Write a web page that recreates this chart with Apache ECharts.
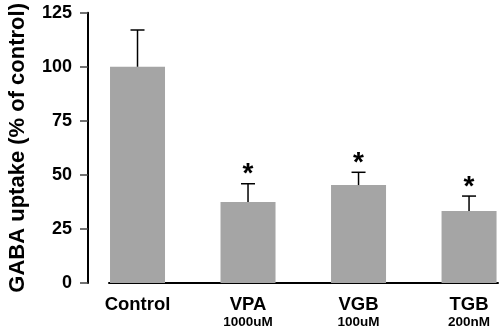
<!DOCTYPE html>
<html>
<head>
<meta charset="utf-8">
<script src="https://cdn.jsdelivr.net/npm/echarts@6/dist/echarts.min.js"></script>
<style>
  html, body { margin: 0; padding: 0; background: #fff; }
  #chart { width: 500px; height: 331px; }
</style>
</head>
<body>
<div id="chart"></div>
<script>
// GABA uptake per treatment, % of control (mean and error)
const categories = ['Control', 'VPA', 'VGB', 'TGB'];
const doses = ['', '1000uM', '100uM', '200nM'];
const uptake = [100, 37.5, 45.3, 33.3];
const errors = [17, 8.4, 5.9, 6.9];
const significant = [false, true, true, true];
const yTicks = [0, 25, 50, 75, 100, 125];

const FONT = '"Liberation Sans", Arial, Helvetica, sans-serif';
const positions = categories.map((c, i) => i);

const chart = echarts.init(document.getElementById('chart'), null, { renderer: 'canvas' });

const option = {
  animation: false,
  backgroundColor: '#fff',
  grid: { left: 109, right: 2, top: 12.7, bottom: 48, outerBoundsMode: 'none', containLabel: false },
  xAxis: {
    type: 'value',
    min: -0.258,
    max: 3.262,
    splitLine: { show: false },
    axisLine: { show: true, onZero: false, lineStyle: { color: '#000', width: 2 } },
    axisTick: { show: false },
    axisLabel: {
      customValues: positions,
      margin: 13,
      color: '#000',
      formatter: function (v) {
        const i = Math.round(v);
        return doses[i]
          ? '{name|' + categories[i] + '}\n{dose|' + doses[i] + '}'
          : '{name|' + categories[i] + '}';
      },
      rich: {
        name: { fontFamily: FONT, fontSize: 18.5, fontWeight: 'bold', lineHeight: 18, color: '#000' },
        dose: { fontFamily: FONT, fontSize: 13.5, fontWeight: 'bold', lineHeight: 17, color: '#000' }
      }
    }
  },
  yAxis: {
    type: 'value',
    min: yTicks[0],
    max: yTicks[yTicks.length - 1],
    interval: 25,
    offset: 21,
    name: 'GABA uptake (% of control)',
    nameLocation: 'middle',
    nameGap: 59,
    nameTextStyle: { fontFamily: FONT, fontSize: 22, fontWeight: 'bold', color: '#000' },
    splitLine: { show: false },
    axisLine: { show: true, onZero: false, lineStyle: { color: '#000', width: 2 } },
    axisTick: { show: true, length: 8, lineStyle: { color: '#444', width: 1.5 } },
    axisLabel: { fontFamily: FONT, fontSize: 18, fontWeight: 'bold', color: '#000', margin: 16 }
  },
  series: [
    {
      type: 'bar',
      barWidth: 55,
      itemStyle: { color: '#a5a5a5' },
      data: positions.map(i => [i, uptake[i]]),
      z: 2
    },
    {
      type: 'custom',
      z: 3,
      data: positions.map(i => [i, uptake[i], errors[i], significant[i] ? 1 : 0]),
      renderItem: function (params, api) {
        const i = api.value(0);
        const mean = api.value(1);
        const err = api.value(2);
        const base = api.coord([i, mean]);
        const top = api.coord([i, mean + err]);
        const capHalf = 7;
        const stroke = { stroke: '#000', lineWidth: 1.5 };
        const children = [
          { type: 'line', shape: { x1: base[0], y1: base[1], x2: top[0], y2: top[1] }, style: stroke },
          { type: 'line', shape: { x1: top[0] - capHalf, y1: top[1], x2: top[0] + capHalf, y2: top[1] }, style: stroke }
        ];
        if (api.value(3)) {
          children.push({
            type: 'text',
            style: {
              text: '*',
              x: top[0],
              y: top[1] + 5,
              align: 'center',
              verticalAlign: 'bottom',
              font: 'bold 28px ' + FONT,
              fill: '#000'
            }
          });
        }
        return { type: 'group', children: children };
      }
    }
  ]
};

chart.setOption(option);
</script>
</body>
</html>
